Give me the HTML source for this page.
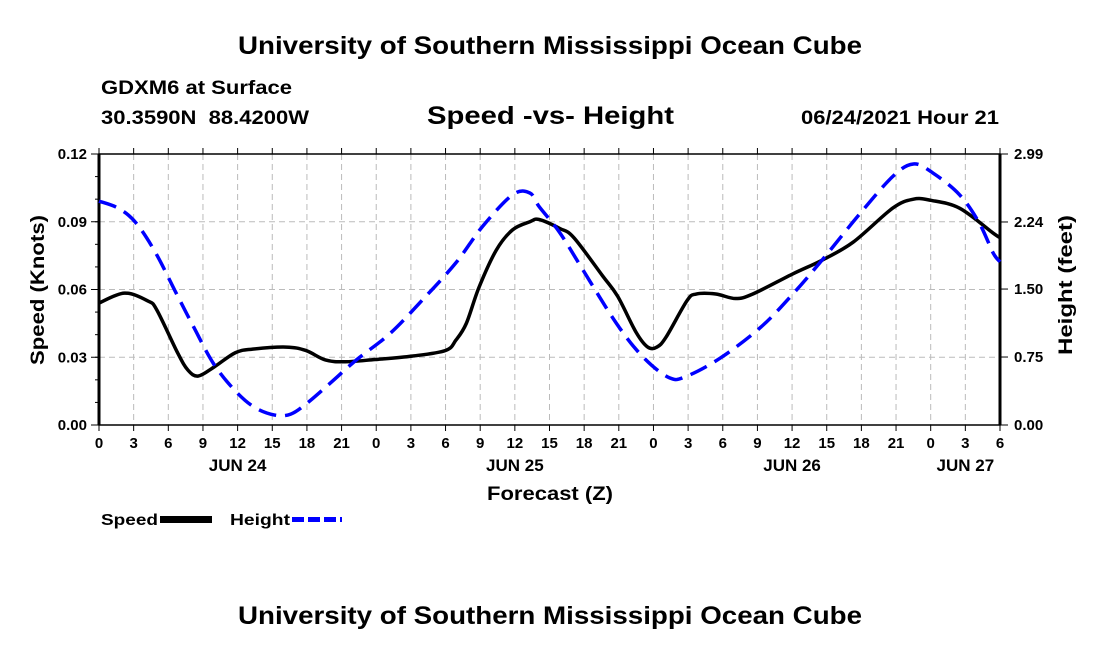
<!DOCTYPE html>
<html><head><meta charset="utf-8"><style>
body{margin:0;background:#fff;width:1100px;height:650px;overflow:hidden;font-family:"Liberation Sans",sans-serif}
svg text{font-family:"Liberation Sans",sans-serif;font-weight:bold;fill:#000}
</style></head><body>
<svg id="chart" width="1100" height="650" xmlns="http://www.w3.org/2000/svg">
<text x="238" y="54" font-size="25" textLength="624" lengthAdjust="spacingAndGlyphs">University of Southern Mississippi Ocean Cube</text>
<text x="101" y="94" font-size="19" textLength="191" lengthAdjust="spacingAndGlyphs">GDXM6 at Surface</text>
<text x="101" y="124" font-size="19" textLength="208" lengthAdjust="spacingAndGlyphs" xml:space="preserve">30.3590N  88.4200W</text>
<text x="427" y="124" font-size="25" textLength="247" lengthAdjust="spacingAndGlyphs">Speed -vs- Height</text>
<text x="801" y="124" font-size="19" textLength="198" lengthAdjust="spacingAndGlyphs">06/24/2021 Hour 21</text>
<g id="grid"></g><g id="axes"></g><g id="series"></g>
<text x="487" y="500" font-size="19" textLength="126" lengthAdjust="spacingAndGlyphs">Forecast (Z)</text>
<text transform="translate(44,365) rotate(-90)" font-size="19" textLength="150" lengthAdjust="spacingAndGlyphs">Speed (Knots)</text>
<text transform="translate(1072,355) rotate(-90)" font-size="19" textLength="140" lengthAdjust="spacingAndGlyphs">Height (feet)</text>
<g><text x="101" y="525" font-size="16" textLength="57" lengthAdjust="spacingAndGlyphs">Speed</text><rect x="160" y="516" width="52" height="7" fill="#000"/></g>
<g><text x="230" y="525" font-size="16" textLength="60" lengthAdjust="spacingAndGlyphs">Height</text><line x1="292" y1="519.5" x2="342" y2="519.5" stroke="#00f" stroke-width="5" stroke-dasharray="12,4"/></g>
<text x="238" y="624" font-size="25" textLength="624" lengthAdjust="spacingAndGlyphs">University of Southern Mississippi Ocean Cube</text>
</svg>
<script>
const speedHours=[0,2.2,4.2,5,6.8,7.7,8.6,10,11.8,13.3,16.2,17.9,19.6,21.3,23.9,27.1,30,30.9,31.8,32.9,34.4,35.8,37.3,38.1,39.9,41.1,43.6,44.9,46.5,47.5,48.3,49.1,50.9,51.7,53.4,55.1,56.6,60.1,62.6,65.3,68.7,70.5,72,74.5,77.4,78];
const speedVals=[0.054,0.0584,0.055,0.051,0.032,0.0243,0.0217,0.0258,0.032,0.0336,0.0345,0.033,0.0288,0.028,0.029,0.0305,0.033,0.0376,0.045,0.061,0.0775,0.0864,0.09,0.091,0.087,0.083,0.066,0.057,0.041,0.0345,0.0345,0.039,0.055,0.058,0.058,0.056,0.058,0.067,0.073,0.081,0.096,0.1,0.0995,0.096,0.085,0.083];
const heightHours=[0,1.7,3.2,4.9,6.7,8.2,9.9,11.7,13.4,15.2,16.6,18,20,22.3,25.2,28,30.9,33.2,35.8,37.3,38.1,39.9,41.9,44.8,47.1,49.4,50.9,53.8,57.3,60.1,62.6,65.8,68.7,70.5,72.2,74.5,76.2,77.4,78];
const heightVals=[2.47,2.39,2.23,1.9,1.45,1.08,0.68,0.39,0.2,0.11,0.12,0.24,0.46,0.72,1.01,1.38,1.79,2.19,2.54,2.56,2.41,2.12,1.71,1.12,0.75,0.52,0.54,0.74,1.08,1.45,1.82,2.32,2.74,2.88,2.78,2.54,2.23,1.9,1.8];
const leftTicks=["0.00","0.03","0.06","0.09","0.12"];
const rightTicks=["0.00","0.75","1.50","2.24","2.99"];
const hourLabels=["0","3","6","9","12","15","18","21","0","3","6","9","12","15","18","21","0","3","6","9","12","15","18","21","0","3","6"];
const dayLabels=["JUN 24","JUN 25","JUN 26","JUN 27"];
const dayHours=[12,36,60,75];
const X0=99,X1=1000,Y0=425,Y1=154,HMAX=78,SMAX=0.12,FMAX=2.99;
const xs=h=>X0+h*(X1-X0)/HMAX, ys=v=>Y0-v*(Y0-Y1)/SMAX, yf=v=>Y0-v*(Y0-Y1)/FMAX;
const NS="http://www.w3.org/2000/svg";
function mk(p,tag,a){const e=document.createElementNS(NS,tag);for(const k in a)e.setAttribute(k,a[k]);p.appendChild(e);return e;}
const grid=document.getElementById('grid'),axes=document.getElementById('axes'),ser=document.getElementById('series');
hourLabels.forEach((l,i)=>{const x=xs(i*3);
 if(i>0&&i<hourLabels.length-1){const g=mk(grid,'line',{x1:x,x2:x,y1:Y1,y2:Y0,stroke:'#bbb','stroke-dasharray':'6,4'});
 
 }
 mk(axes,'line',{x1:x,x2:x,y1:Y0,y2:Y0+6,stroke:'#000'});
 mk(axes,'line',{x1:x,x2:x,y1:Y1,y2:Y1-6,stroke:'#000'});
 const t=mk(axes,'text',{x:x,y:Y0+23,'font-size':15,'text-anchor':'middle'});t.textContent=l;
 
 
});
dayLabels.forEach((l,i)=>{const t=mk(axes,'text',{x:xs(dayHours[i]),y:Y0+46,'font-size':17,'text-anchor':'middle'});t.textContent=l;
 
 });
leftTicks.forEach((l,i)=>{const y=ys(i*0.03);
 if(i>0&&i<4){const g=mk(grid,'line',{x1:X0,x2:X1,y1:y,y2:y,stroke:'#bbb','stroke-dasharray':'6,4'});
 
 }
 mk(axes,'line',{x1:X0-8,x2:X0,y1:y,y2:y,stroke:'#000'});
 const t=mk(axes,'text',{x:X0-12,y:y+5,'font-size':15,'text-anchor':'end'});t.textContent=l;
 
 
});
for(let v=0.01;v<0.12;v+=0.01)mk(axes,'line',{x1:X0-4,x2:X0,y1:ys(v),y2:ys(v),stroke:'#000'});
rightTicks.forEach((l,i)=>{const y=yf(parseFloat(l));
 mk(axes,'line',{x1:X1,x2:X1+8,y1:y,y2:y,stroke:'#000'});
 const t=mk(axes,'text',{x:X1+14,y:y+5,'font-size':15});t.textContent=l;
 
 
});
mk(axes,'rect',{x:X0,y:Y1,width:X1-X0,height:Y0-Y1,fill:'none',stroke:'#000','stroke-width':1.5});
mk(axes,'line',{x1:X0,x2:X0,y1:Y1,y2:Y0,stroke:'#000','stroke-width':3});
mk(axes,'line',{x1:X1,x2:X1,y1:Y1,y2:Y0,stroke:'#000','stroke-width':3});
function smooth(pts){let d=`M${pts[0][0]},${pts[0][1]}`;for(let i=0;i<pts.length-1;i++){const p0=pts[i-1]||pts[i],p1=pts[i],p2=pts[i+1],p3=pts[i+2]||p2;
 d+=` C${p1[0]+(p2[0]-p0[0])/6},${p1[1]+(p2[1]-p0[1])/6} ${p2[0]-(p3[0]-p1[0])/6},${p2[1]-(p3[1]-p1[1])/6} ${p2[0]},${p2[1]}`;}return d;}
const sp=mk(ser,'path',{d:smooth(speedHours.map((h,i)=>[xs(h),ys(speedVals[i])])),fill:'none',stroke:'#000','stroke-width':3.5});


const hp=mk(ser,'path',{d:smooth(heightHours.map((h,i)=>[xs(h),yf(heightVals[i])])),fill:'none',stroke:'#00f','stroke-width':3.5,'stroke-dasharray':'18,9'});


</script>
</body></html>
